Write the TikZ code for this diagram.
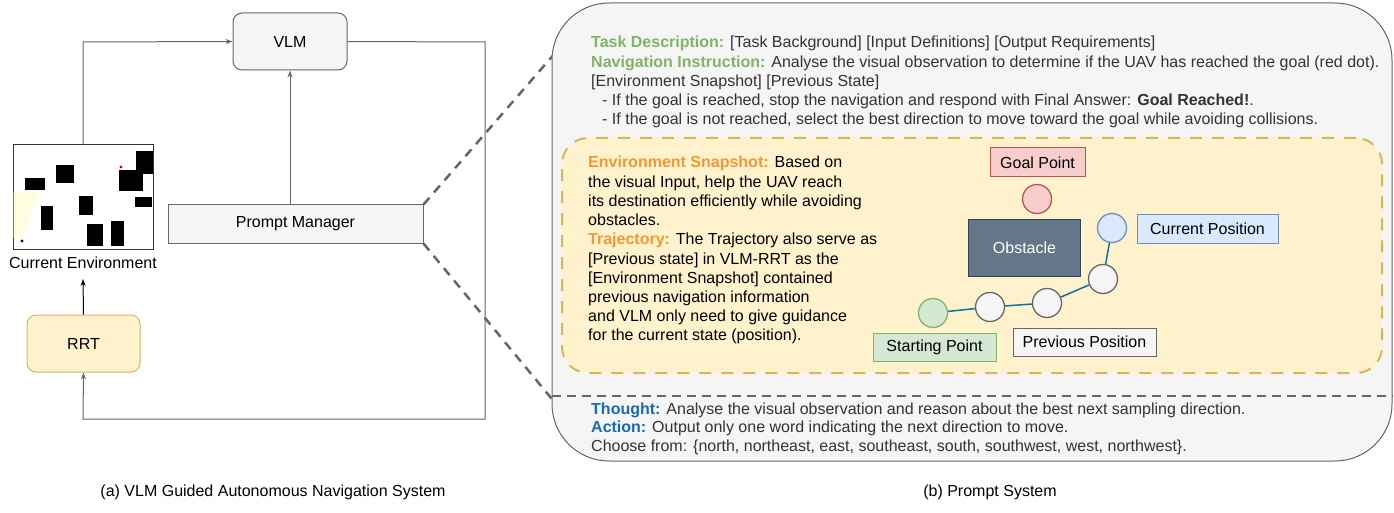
\documentclass[tikz,border=0pt]{standalone}
\usepackage{fontspec}
\setmainfont{Liberation Sans}
\usetikzlibrary{arrows.meta}
\definecolor{gfill}{HTML}{F5F5F5}
\definecolor{gline}{HTML}{666666}
\definecolor{yfill}{HTML}{FFF2CC}
\definecolor{yline}{HTML}{D6B656}
\definecolor{rfill}{HTML}{F8CECC}
\definecolor{rline}{HTML}{B85450}
\definecolor{bfill}{HTML}{DAE8FC}
\definecolor{bline}{HTML}{6C8EBF}
\definecolor{grfill}{HTML}{D5E8D4}
\definecolor{grline}{HTML}{82B366}
\definecolor{obfill}{HTML}{647687}
\definecolor{obline}{HTML}{314354}
\definecolor{pathc}{HTML}{10739E}
\definecolor{kgreen}{HTML}{82B366}
\definecolor{korange}{HTML}{F29933}
\definecolor{kblue}{HTML}{1A68B8}
\definecolor{ktext}{HTML}{333333}
\definecolor{envyel}{HTML}{FFFDE0}
\tikzset{
  f16/.style={font=\fontsize{16}{19.2}\selectfont},
  graybox/.style={draw=gline, fill=gfill, line width=1pt, f16},
  yelbox/.style={draw=yline, fill=yfill, line width=1pt, f16},
  conn/.style={draw=gline, line width=1pt, -{Stealth[length=7pt,width=5pt]}},
  zoomline/.style={draw=gline, line width=2.5pt, dash pattern=on 9pt off 7pt},
  txtline/.style={anchor=base west, inner sep=0pt, f16},
  pt/.style={circle, minimum size=29pt, inner sep=0pt, line width=1.3pt},
  lbl/.style={inner sep=0pt, line width=1pt, f16},
}
\begin{document}
\begin{tikzpicture}[x=1pt,y=-1pt]
\useasboundingbox (0,0) rectangle (1394,513);

% ---------- left part ----------
\node[graybox, rounded corners=9pt, minimum width=114pt, minimum height=57pt] (vlm) at (290,41.5) {VLM};
\node[yelbox, rounded corners=9pt, minimum width=113pt, minimum height=57pt] (rrt) at (83.5,343.5) {RRT};
\node[graybox, minimum width=255pt, minimum height=38pt] (pm) at (295.5,224) {Prompt Manager};
\node[draw=black!80, line width=1pt, fill=white, minimum width=140pt, minimum height=104pt, inner sep=0pt] (env) at (83,197) {};
% environment snapshot contents
\fill[envyel] (13.5,192) -- (40,192) -- (22,238) -- (13.5,238) -- cycle;
\fill[black] (25,178) rectangle (45,190);
\fill[black] (56,165) rectangle (74,183);
\fill[black] (41,206) rectangle (53,230);
\fill[black] (79,196) rectangle (93,215);
\fill[black] (87,224) rectangle (103,246);
\fill[black] (111,221) rectangle (124,246);
\fill[black] (135,197) rectangle (152,207);
\fill[black] (119,170) rectangle (143,191);
\fill[black] (136,151) rectangle (152.5,174);
\fill[red!80!black] (121,167) circle (1.6pt);
\fill[blue!70!black] (22,241) circle (1.6pt);
\node[f16, inner sep=0pt] (envlbl) at (83,263) {Current Environment};

\coordinate (c1) at (83,42);
\coordinate (c2) at (485,42);
\coordinate (c3) at (485,419);
\coordinate (c4) at (83,419);
\draw[conn] (env.north) -- (c1) -- (vlm.west);
\draw[conn] (vlm.east) -- (c2) -- (c3) -- (c4) -- (rrt.south);
\draw[conn] (pm.north -| vlm.south) -- (vlm.south);
\draw[line width=1pt, -{Stealth[length=7pt,width=5pt]}] (rrt.north) -- (83,279);

% zoom lines
\coordinate (z1) at (556,52);
\coordinate (z2) at (556,404);
\draw[zoomline] (pm.north east) -- (z1);
\draw[zoomline] (pm.south east) -- (z2);

% ---------- right part ----------
\node[draw=gline, fill=gfill, line width=1pt, rounded corners=57pt, minimum width=840pt, minimum height=458pt, inner sep=0pt] (big) at (972,232) {};
\node[draw=yline, fill=yfill, line width=2pt, dash pattern=on 12pt off 10pt, rounded corners=26pt, minimum width=820pt, minimum height=235pt, inner sep=0pt] (yb) at (972,255.5) {};
\coordinate (s1) at (big.west |- 0,396);
\coordinate (s2) at (big.east |- 0,396);
\draw[draw=gline, line width=2.5pt, dash pattern=on 9pt off 6pt] (s1) -- (s2);

% top texts
\node[txtline, text=ktext] (t1) at (591,48) {\textcolor{kgreen}{\bfseries Task Description:} [Task Background] [Input Definitions] [Output Requirements]};
\node[txtline, text=ktext] (t2) at (591,68) {\textcolor{kgreen}{\bfseries Navigation Instruction:} Analyse the visual observation to determine if the UAV has reached the goal (red dot).};
\node[txtline, text=ktext] (t3) at (591,87) {[Environment Snapshot] [Previous State]};
\node[txtline, text=ktext] (t4) at (602,106) {- If the goal is reached, stop the navigation and respond with Final Answer: \textbf{Goal Reached!}.};
\node[txtline, text=ktext] (t5) at (602,125) {- If the goal is not reached, select the best direction to move toward the goal while avoiding collisions.};

% yellow block texts
\node[txtline] (e1) at (588,168) {\textcolor{korange}{\bfseries Environment Snapshot:} Based on};
\node[txtline] (e2) at (588,187.2) {the visual Input, help the UAV reach};
\node[txtline] (e3) at (588,206.4) {its destination efficiently while avoiding};
\node[txtline] (e4) at (588,225.6) {obstacles.};
\node[txtline] (e5) at (588,244.8) {\textcolor{korange}{\bfseries Trajectory:} The Trajectory also serve as};
\node[txtline] (e6) at (588,264) {[Previous state] in VLM-RRT as the};
\node[txtline] (e7) at (588,283.2) {[Environment Snapshot] contained};
\node[txtline] (e8) at (588,302.4) {previous navigation information};
\node[txtline] (e9) at (588,321.6) {and VLM only need to give guidance};
\node[txtline] (e10) at (588,340.8) {for the current state (position).};

% scene
\node[lbl, draw=rline, fill=rfill, minimum width=95pt, minimum height=29pt] (goallbl) at (1037.5,162.5) {Goal Point};
\node[pt, draw=rline, fill=rfill] (goal) at (1037,199) {};
\node[lbl, draw=obline, fill=obfill, text=white, minimum width=112pt, minimum height=57pt] (obs) at (1024.5,247.5) {Obstacle};
\node[lbl, draw=bline, fill=bfill, minimum width=141pt, minimum height=29pt] (curlbl) at (1207.5,228.5) {Current Position};
\node[lbl, draw=grline, fill=grfill, minimum width=123pt, minimum height=28pt] (stlbl) at (934.5,347) {Starting Point};
\node[lbl, draw=gline, fill=gfill, minimum width=143pt, minimum height=28pt] (prlbl) at (1084.5,342) {Previous Position};

\node[pt, draw=bline, fill=bfill] (cur) at (1112,228) {};
\node[pt, draw=gline, fill=gfill] (p3) at (1103,279) {};
\node[pt, draw=gline, fill=gfill] (p2) at (1047,303) {};
\node[pt, draw=gline, fill=gfill] (p1) at (990,307) {};
\node[pt, draw=grline, fill=grfill] (st) at (933,313) {};
\draw[pathc, line width=1.5pt] (st) -- (p1) -- (p2) -- (p3) -- (cur);

% bottom texts
\node[txtline, text=ktext] (a1) at (591,414) {\textcolor{kblue}{\bfseries Thought:} Analyse the visual observation and reason about the best next sampling direction.};
\node[txtline, text=ktext] (a2) at (591,432.5) {\textcolor{kblue}{\bfseries Action:} Output only one word indicating the next direction to move.};
\node[txtline, text=ktext] (a3) at (591,451) {Choose from: \{north, northeast, east, southeast, south, southwest, west, northwest\}.};

% captions
\node[f16, anchor=base, inner sep=0pt] (capa) at (273,496) {(a) VLM Guided Autonomous Navigation System};
\node[f16, anchor=base, inner sep=0pt] (capb) at (990,496) {(b) Prompt System};
\end{tikzpicture}
\end{document}
